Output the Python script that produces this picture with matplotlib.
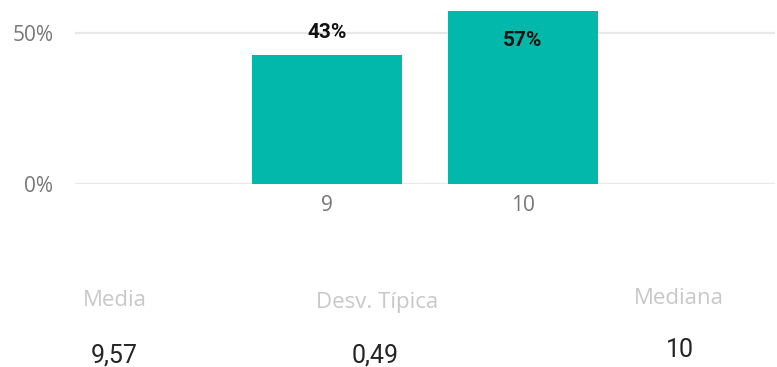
import matplotlib
matplotlib.use("Agg")
import matplotlib.pyplot as plt

# score distribution
categories = ["9", "10"]
shares = [42.86, 57.14]
share_labels = ["43%", "57%"]
label_inside = [False, True]

# summary cards
stat_names = ["Media", "Desv. Típica", "Mediana"]
stat_values = ["9,57", "0,49", "10"]

W, H = 777, 367
BAR = "#01B8AA"
NARROW = ["Liberation Sans Narrow", "Roboto"]

fig = plt.figure(figsize=(W / 100, H / 100), dpi=100)
fig.patch.set_facecolor("white")

# axes box in pixels: x 75..775, y 0..184 (from top)
ax = fig.add_axes([75 / W, (H - 184) / H, 700 / W, 184 / H])
x = list(range(len(categories)))
ax.bar(x, shares, width=0.765, color=BAR, zorder=3)
ax.set_xlim(-1.286, 2.286)
ax.set_ylim(0, 184 / 3.02)

ax.set_yticks([0, 50])
ax.set_yticklabels(["0%", "50%"])
ax.set_xticks(x)
ax.set_xticklabels(categories)
ax.yaxis.grid(True, color="#e8e8e8", linewidth=1.6, zorder=0)
ax.tick_params(length=0, labelsize=15, labelcolor="#777777")
ax.tick_params(axis="y", pad=15.5)
ax.tick_params(axis="x", pad=8)
for lab in ax.get_xticklabels() + ax.get_yticklabels():
    lab.set_fontfamily("Open Sans")
for s in ax.spines.values():
    s.set_visible(False)

for xi, v, txt, inside in zip(x, shares, share_labels, label_inside):
    off = -35 if inside else 17
    ax.annotate(txt, (xi, v), xytext=(0, off), textcoords="offset pixels",
                ha="center", va="baseline", fontsize=15, fontweight="bold",
                fontfamily=NARROW, color="#111111", zorder=4)

# summary row
name_pos = [(115, 306), (377, 308), (679, 304)]
value_pos = [(114, 362), (375, 362), (680, 357)]
for name, (nx, ny) in zip(stat_names, name_pos):
    fig.text(nx / W, 1 - ny / H, name, ha="center", va="baseline",
             fontsize=16, fontfamily="Open Sans", color="#c8c8c8")
for val, (vx, vy) in zip(stat_values, value_pos):
    fig.text(vx / W, 1 - vy / H, val, ha="center", va="baseline",
             fontsize=18, fontfamily=NARROW, color="#252525")

fig.savefig("out.png", dpi=100)
